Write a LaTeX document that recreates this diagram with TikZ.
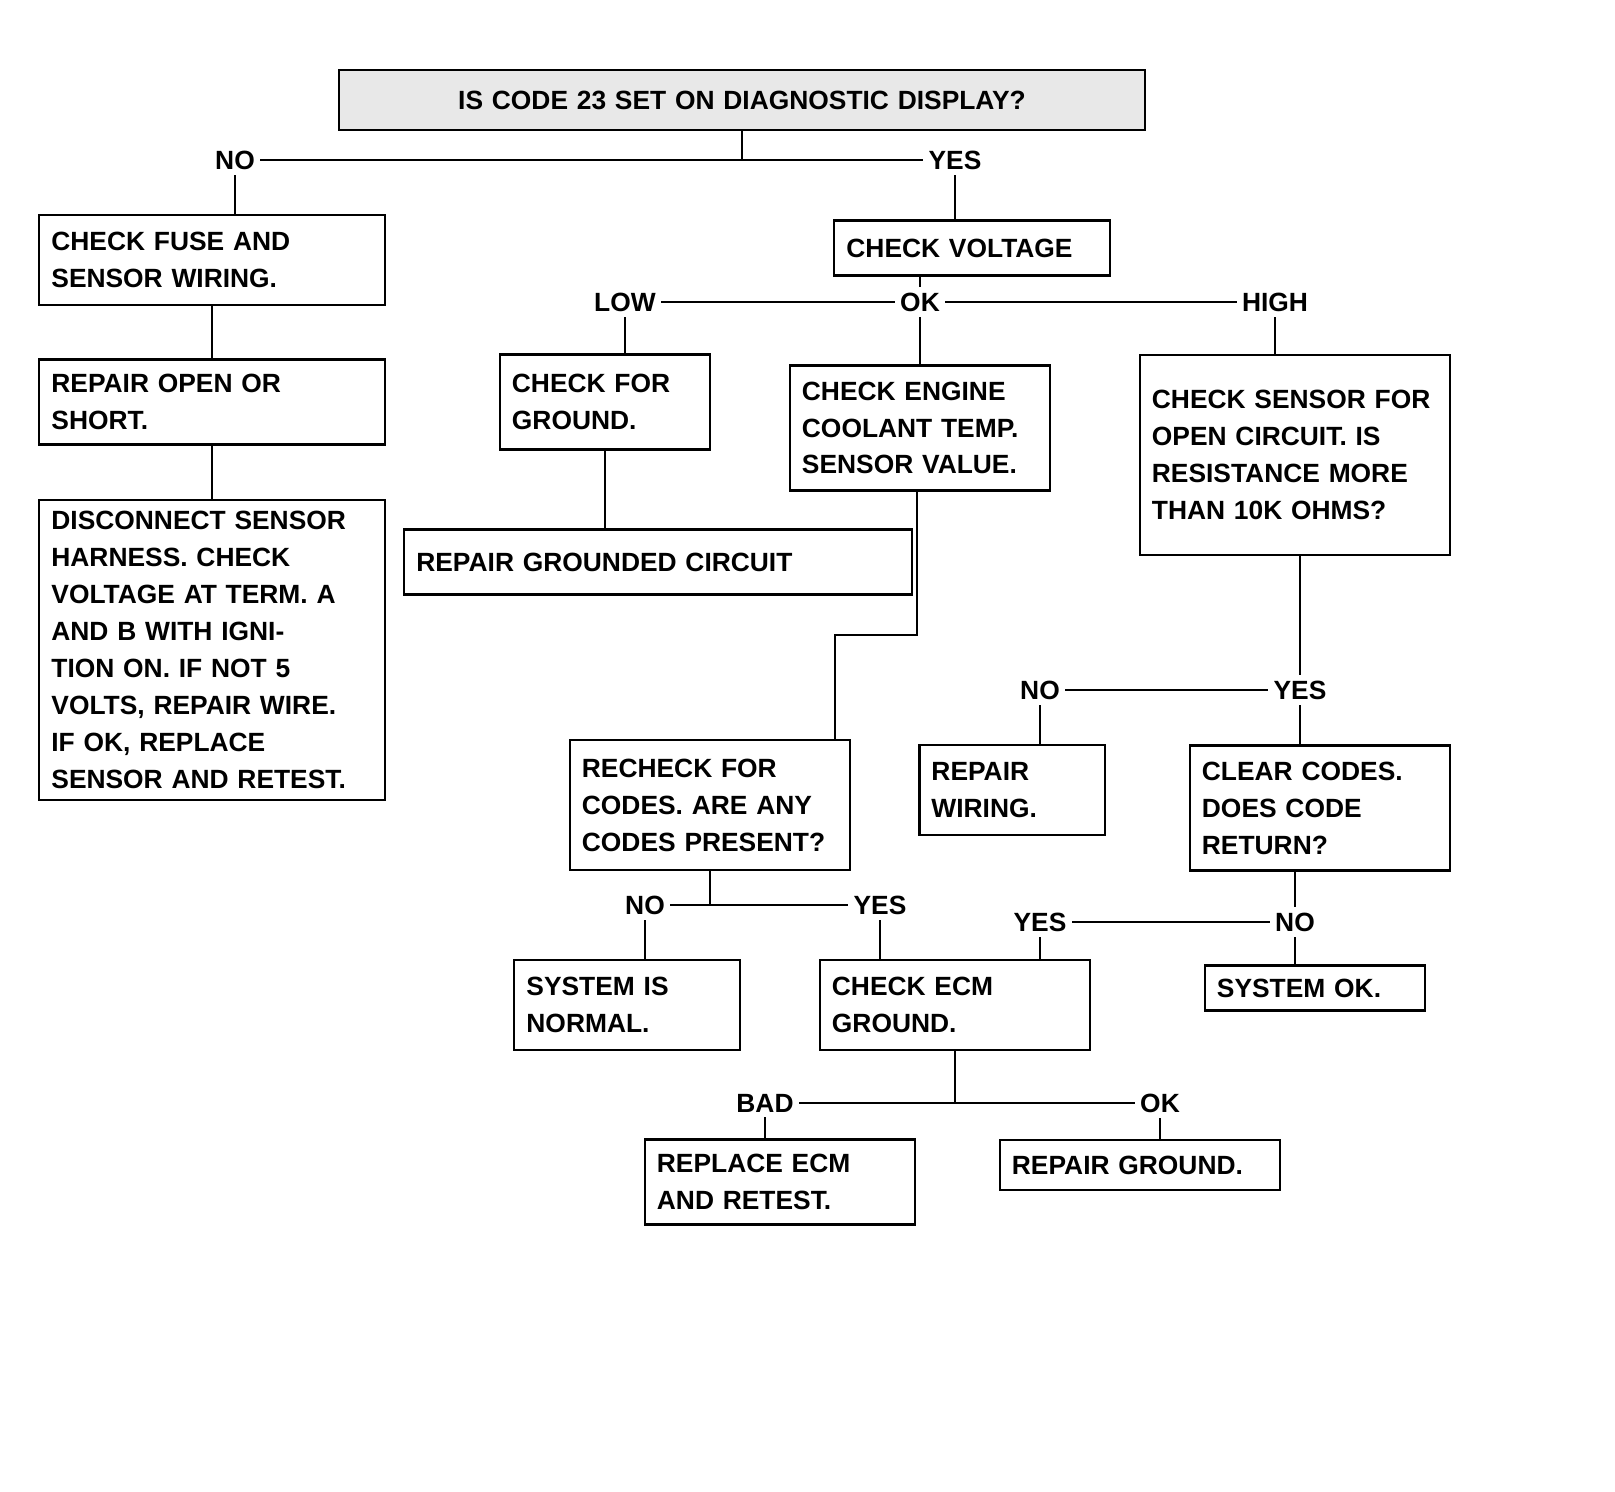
\documentclass[tikz,border=0pt]{standalone}
\usepackage{fontspec}
\setmainfont{Liberation Sans}
\usetikzlibrary{backgrounds}
\tikzset{
  txt/.style={font=\fontsize{7.5}{10.5}\selectfont\bfseries},
  box/.style={txt, draw=black, line width=0.6pt, inner xsep=1.2mm, inner ysep=1mm, align=left, fill=white},
  headbox/.style={box, fill=gray!18, align=center},
  lab/.style={txt, fill=white, inner sep=1.5pt},
  conn/.style={draw=black, line width=0.6pt},
}
\begin{document}
\begin{tikzpicture}[x=0.01cm, y=-0.01cm]
\path[use as bounding box] (0,0) rectangle (1615,1492);

% nodes
\node[headbox, text width=7.81cm, minimum height=0.6cm] (top) at (742,100) {IS CODE 23 SET ON DIAGNOSTIC DISPLAY?};

\node[box, text width=3.21cm, minimum height=0.9cm] (A) at (212,260) {CHECK FUSE AND\\SENSOR WIRING.};
\node[box, text width=3.21cm, minimum height=0.85cm] (B) at (212,402) {REPAIR OPEN OR\\SHORT.};
\node[box, text width=3.21cm, minimum height=3.0cm] (C) at (212,650) {DISCONNECT SENSOR\\HARNESS. CHECK\\VOLTAGE AT TERM. A\\AND B WITH IGNI-\\TION ON. IF NOT 5\\VOLTS, REPAIR WIRE.\\IF OK, REPLACE\\SENSOR AND RETEST.};

\node[box, text width=2.51cm, minimum height=0.55cm] (D) at (972,248) {CHECK VOLTAGE};

\node[box, text width=1.86cm, minimum height=0.95cm] (E) at (605,402) {CHECK FOR\\GROUND.};
\node[box, text width=2.36cm, minimum height=1.25cm] (F) at (920,428) {CHECK ENGINE\\COOLANT TEMP.\\SENSOR VALUE.};
\node[box, text width=2.86cm, minimum height=2.0cm] (G) at (1295,455) {CHECK SENSOR FOR\\OPEN CIRCUIT. IS\\RESISTANCE MORE\\THAN 10K OHMS?};

\node[box, text width=4.83cm, minimum height=0.65cm] (H) at (658,562) {REPAIR GROUNDED CIRCUIT};

\node[box, text width=2.56cm, minimum height=1.3cm] (I) at (710,805) {RECHECK FOR\\CODES. ARE ANY\\CODES PRESENT?};
\node[box, text width=2.01cm, minimum height=0.9cm] (J) at (627,1005) {SYSTEM IS\\NORMAL.};
\node[box, text width=2.46cm, minimum height=0.9cm] (K) at (955,1005) {CHECK ECM\\GROUND.};

\node[box, text width=1.61cm, minimum height=0.9cm] (L) at (1012,790) {REPAIR\\WIRING.};
\node[box, text width=2.36cm, minimum height=1.25cm] (M) at (1320,808) {CLEAR CODES.\\DOES CODE\\RETURN?};
\node[box, text width=1.96cm, minimum height=0.45cm] (N) at (1315,988) {SYSTEM OK.};

\node[box, text width=2.46cm, minimum height=0.85cm] (O) at (780,1182) {REPLACE ECM\\AND RETEST.};
\node[box, text width=2.56cm, minimum height=0.5cm] (P) at (1140,1165) {REPAIR GROUND.};

% branch labels
\node[lab] (l1) at (235,160) {NO};
\node[lab] (r1) at (955,160) {YES};
\coordinate (j0) at (742,160);

\node[lab] (m1) at (625,302) {LOW};
\node[lab] (m2) at (920,302) {OK};
\node[lab] (m3) at (1275,302) {HIGH};

\coordinate (c1) at (917,635);
\coordinate (c2) at (835,635);

\node[lab] (n1) at (645,905) {NO};
\node[lab] (y1) at (880,905) {YES};

\node[lab] (g1) at (1040,690) {NO};
\node[lab] (g2) at (1300,690) {YES};

\node[lab] (k1) at (1040,922) {YES};
\node[lab] (k2) at (1295,922) {NO};

\node[lab] (o1) at (765,1103) {BAD};
\node[lab] (o2) at (1160,1103) {OK};

% connectors
\begin{scope}[on background layer]
\draw[conn] (top) -- (j0);
\draw[conn] (l1.center) -- (r1.center);
\draw[conn] (l1.center) -- (l1.center |- A.north);
\draw[conn] (A.south) -- (B.north);
\draw[conn] (B.south) -- (C.north);
\draw[conn] (r1.center) -- (r1.center |- D.north);

\draw[conn] (m2.center |- D.south) -- (m2.center);
\draw[conn] (m1.center) -- (m3.center);
\draw[conn] (m1.center) -- (m1.center |- E.north);
\draw[conn] (m2.center) -- (m2.center |- F.north);
\draw[conn] (m3.center) -- (m3.center |- G.north);

\draw[conn] (E.south) -- (E.south |- H.north);
\draw[conn] (F.south -| c1) -- (c1) -- (c2) -- (c2 |- I.north);

\draw[conn] (I.south) -- (I.south |- n1.center);
\draw[conn] (n1.center) -- (y1.center);
\draw[conn] (n1.center) -- (n1.center |- J.north);
\draw[conn] (y1.center) -- (y1.center |- K.north);

\draw[conn] (G.south -| g2) -- (g2.center);
\draw[conn] (g1.center) -- (g2.center);
\draw[conn] (g1.center) -- (g1.center |- L.north);
\draw[conn] (g2.center) -- (g2.center |- M.north);

\draw[conn] (M.south -| k2) -- (k2.center);
\draw[conn] (k1.center) -- (k2.center);
\draw[conn] (k1.center) -- (k1.center |- K.north);
\draw[conn] (k2.center) -- (k2.center |- N.north);

\draw[conn] (K.south) -- (K.south |- o1.center);
\draw[conn] (o1.center) -- (o2.center);
\draw[conn] (o1.center) -- (o1.center |- O.north);
\draw[conn] (o2.center) -- (o2.center |- P.north);
\end{scope}
\end{tikzpicture}
\end{document}
